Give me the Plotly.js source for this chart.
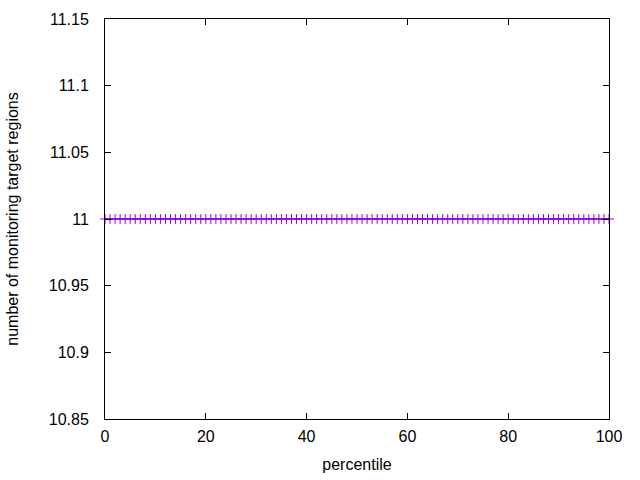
<!DOCTYPE html>
<html><head><meta charset="utf-8">
<script src="https://cdn.plot.ly/plotly-3.0.1.min.js"></script>
<style>body{margin:0}#c{width:640px;height:480px}</style>
</head><body><div id="c"></div>
<script>
const percentile = [];
for (let i = 0; i <= 100; i++) percentile.push(i);
const regions = [11,11,11,11,11,11,11,11,11,11,11,11,11,11,11,11,11,11,11,11,
11,11,11,11,11,11,11,11,11,11,11,11,11,11,11,11,11,11,11,11,
11,11,11,11,11,11,11,11,11,11,11,11,11,11,11,11,11,11,11,11,
11,11,11,11,11,11,11,11,11,11,11,11,11,11,11,11,11,11,11,11,
11,11,11,11,11,11,11,11,11,11,11,11,11,11,11,11,11,11,11,11,11];
const xTicks = [0,20,40,60,80,100];
const yTicks = [10.85,10.9,10.95,11,11.05,11.1,11.15];
const yTickText = ['10.85','10.9','10.95','11','11.05','11.1','11.15'];

const font = {family: 'Liberation Sans, Arial, sans-serif', size: 16, color: '#000'};
Plotly.newPlot('c', [{
  x: percentile, y: regions, type: 'scatter', mode: 'lines+markers',
  line: {color: '#9400D3', width: 1.5},
  marker: {symbol: 'cross-thin-open', size: 7, line: {color: '#9400D3', width: 1}},
  cliponaxis: false, showlegend: false
}], {
  width: 640, height: 480,
  margin: {l: 105, r: 31, t: 19, b: 61},
  paper_bgcolor: '#fff', plot_bgcolor: '#fff',
  font: font,
  xaxis: {range: [0, 100], tickvals: xTicks, ticks: 'inside', ticklen: 6, tickcolor: '#000',
    mirror: 'allticks', showline: true, linecolor: '#000', linewidth: 1, showgrid: false, zeroline: false,
    title: {text: 'percentile', font: font, standoff: 14}, ticklabelstandoff: 3},
  yaxis: {range: [10.85, 11.15], tickvals: yTicks, ticktext: yTickText, ticks: 'inside', ticklen: 6, tickcolor: '#000',
    mirror: 'allticks', showline: true, linecolor: '#000', linewidth: 1, showgrid: false, zeroline: false,
    title: {text: 'number of monitoring target regions', font: font, standoff: 26}, ticklabelstandoff: 12}
}, {staticPlot: true});
</script></body></html>
